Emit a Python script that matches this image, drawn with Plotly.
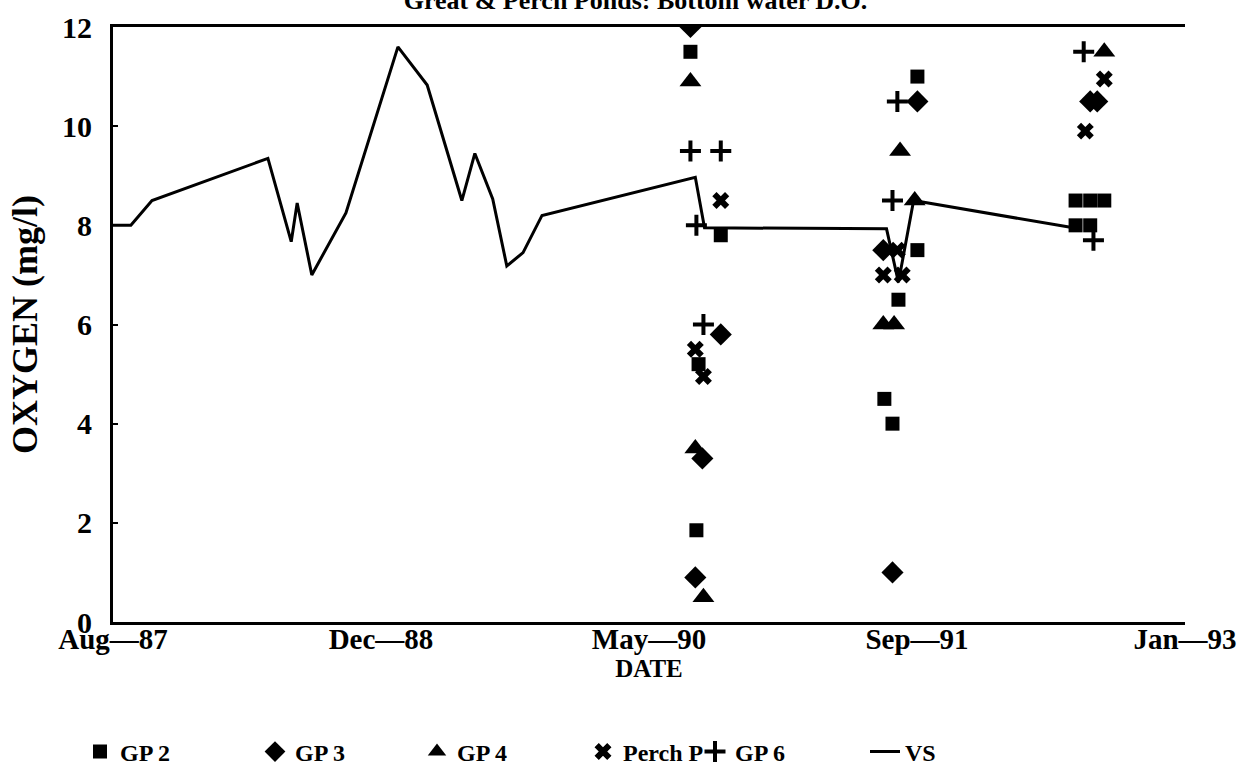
import pandas as pd
import plotly.graph_objects as go

# ---- data -------------------------------------------------------------
vs_dates = ["1987-08-20", "1987-09-22", "1987-10-31", "1988-06-01", "1988-07-14",
            "1988-07-25", "1988-08-21", "1988-10-23", "1989-01-27", "1989-03-22",
            "1989-05-25", "1989-06-18", "1989-07-21", "1989-08-16", "1989-09-15",
            "1989-10-20", "1990-07-30", "1990-08-16", "1991-07-18", "1991-08-09",
            "1991-09-06", "1992-06-27"]
vs_oxygen = [8.0, 8.0, 8.5, 9.35, 7.67, 8.45, 7.0, 8.25, 11.6, 10.83,
             8.5, 9.45, 8.53, 7.18, 7.45, 8.2, 8.97, 7.95, 7.93, 6.85,
             8.5, 7.95]

gp2_dates = ["1990-07-21", "1990-09-15", "1990-08-05", "1990-08-01",
             "1991-09-13", "1991-09-13", "1991-08-09", "1991-07-14", "1991-07-29",
             "1992-07-01", "1992-07-28", "1992-08-23", "1992-07-01", "1992-07-28"]
gp2_oxygen = [11.5, 7.8, 5.2, 1.85,
              11.0, 7.5, 6.5, 4.5, 4.0,
              8.5, 8.5, 8.5, 8.0, 8.0]

gp3_dates = ["1990-07-21", "1990-09-15", "1990-08-12", "1990-07-30",
             "1991-09-13", "1991-07-12", "1991-07-29",
             "1992-07-28", "1992-08-10"]
gp3_oxygen = [12.0, 5.8, 3.3, 0.9,
              10.5, 7.5, 1.0,
              10.5, 10.5]

gp4_dates = ["1990-07-21", "1990-07-30", "1990-08-14",
             "1991-08-12", "1991-09-08", "1991-07-12", "1991-08-01",
             "1992-08-23"]
gp4_oxygen = [10.9, 3.5, 0.5,
              9.5, 8.5, 6.0, 6.0,
              11.5]

perch_dates = ["1990-09-15", "1990-07-30", "1990-08-14",
               "1991-08-07", "1991-07-12", "1991-08-16",
               "1992-08-23", "1992-07-19"]
perch_oxygen = [8.5, 5.5, 4.95,
                7.5, 7.0, 7.0,
                10.95, 9.9]

gp6_dates = ["1990-07-21", "1990-09-15", "1990-08-01", "1990-08-14",
             "1991-08-07", "1991-07-29",
             "1992-07-16", "1992-08-03"]
gp6_oxygen = [9.5, 9.5, 8.0, 6.0,
              10.5, 8.5,
              11.5, 7.7]

tick_labels = ["Aug\u201487", "Dec\u201488", "May\u201490", "Sep\u201491", "Jan\u201493"]
axis_start = pd.Timestamp("1987-08-20")
axis_end = pd.Timestamp("1993-01-19")

# ---- figure -----------------------------------------------------------
FONT = "Liberation Serif"
step = (axis_end - axis_start) / 4
tick_vals = [axis_start + i * step for i in range(5)]

fig = go.Figure()

marker_series = [
    ("GP 2", gp2_dates, gp2_oxygen, dict(symbol="square", size=14)),
    ("GP 3", gp3_dates, gp3_oxygen, dict(symbol="diamond", size=17)),
    ("GP 4", gp4_dates, gp4_oxygen, dict(symbol="triangle-up", size=19)),
    ("Perch P", perch_dates, perch_oxygen, dict(symbol="x", size=15)),
    ("GP 6", gp6_dates, gp6_oxygen,
     dict(symbol="cross-thin", size=15, line=dict(width=4, color="black"))),
]
legend_x_px = [80, 255, 417, 583, 695, 865]

for i, (name, xs, ys, mk) in enumerate(marker_series):
    lg = "legend" if i == 0 else f"legend{i + 1}"
    fig.add_trace(go.Scatter(
        x=pd.to_datetime(xs), y=ys, mode="markers", name=name,
        marker=dict(color="black", **mk), legend=lg,
    ))

fig.add_trace(go.Scatter(
    x=pd.to_datetime(vs_dates), y=vs_oxygen, mode="lines", name="VS",
    line=dict(color="black", width=3), legend="legend6",
))

plot_left, plot_right, plot_top, plot_bottom = 113, 1185, 27, 622
W, H = 1251, 772

legend_layout = {}
for i, px in enumerate(legend_x_px):
    key = "legend" if i == 0 else f"legend{i + 1}"
    legend_layout[key] = dict(
        x=px / W, y=1 - 752 / H, xref="container", yref="container",
        xanchor="left", yanchor="middle", orientation="h",
        bgcolor="rgba(0,0,0,0)",
        font=dict(family=FONT, size=24, color="black", weight="bold"),
        itemwidth=30,
    )

fig.update_layout(
    width=W, height=H,
    margin=dict(l=plot_left, r=W - plot_right, t=plot_top, b=H - plot_bottom),
    paper_bgcolor="white", plot_bgcolor="white",
    showlegend=True,
    title=dict(text="Great & Perch Ponds: Bottom water D.O.",
               x=0.508, xanchor="center", y=1.0, yanchor="middle", yref="container",
               font=dict(family=FONT, size=26, color="black", weight="bold")),
    font=dict(family=FONT, color="black"),
    **legend_layout,
)

fig.update_xaxes(
    type="date", range=[axis_start, axis_end], automargin=False,
    tickvals=tick_vals, ticktext=tick_labels,
    tickfont=dict(family=FONT, size=29, color="black", weight="bold"),
    ticklabelstandoff=-11,
    showgrid=False, zeroline=False,
    showline=True, linecolor="black", linewidth=3, mirror=True,
    ticks="", title=dict(text="DATE", standoff=0,
                         font=dict(family=FONT, size=25, color="black", weight="bold")),
)
fig.update_yaxes(
    range=[0, 12], tickvals=[0, 2, 4, 6, 8, 10, 12], automargin=False,
    tickfont=dict(family=FONT, size=30, color="black", weight="bold"),
    showgrid=False, zeroline=False,
    showline=True, linecolor="black", linewidth=3,
    ticks="inside", ticklen=5, tickwidth=2, tickcolor="black",
    ticklabelstandoff=12,
    title=dict(text="OXYGEN (mg/l)", standoff=14,
               font=dict(family=FONT, size=36, color="black", weight="bold")),
)

fig.write_html("out.html")
